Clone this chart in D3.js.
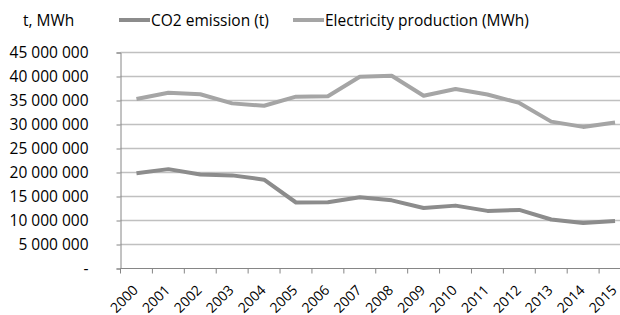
<!DOCTYPE html>
<html>
<head>
<meta charset="utf-8">
<script src="https://cdn.jsdelivr.net/npm/d3@7"></script>
<style>
  body { margin: 0; background: #fff; }
  svg text { font-family: "Open Sans", sans-serif; fill: #000; }
</style>
</head>
<body>
<div id="chart"></div>
<script>
const years = ["2000","2001","2002","2003","2004","2005","2006","2007","2008","2009","2010","2011","2012","2013","2014","2015"];
const co2 = [19850000, 20700000, 19600000, 19400000, 18500000, 13750000, 13800000, 14850000, 14200000, 12600000, 13100000, 12000000, 12200000, 10200000, 9500000, 9900000];
const electricity = [35300000, 36600000, 36300000, 34400000, 33900000, 35800000, 35900000, 39950000, 40150000, 36000000, 37400000, 36250000, 34500000, 30600000, 29500000, 30400000];
const yTicks = [0, 5000000, 10000000, 15000000, 20000000, 25000000, 30000000, 35000000, 40000000, 45000000];

const width = 620, height = 315;
const fontSize = "15.5px";
const svg = d3.select("#chart").append("svg")
    .attr("width", width)
    .attr("height", height);

// plot area runs past the right edge, like the cropped original
const x = d3.scaleBand().domain(years).range([120.5, 631]);
const y = d3.scaleLinear().domain([0, 45000000]).range([268.5, 52.5]);

const fmt = d => d === 0 ? "-" : d3.format(",")(d).replace(/,/g, " ");

// gridlines
svg.append("g")
    .selectAll("line")
    .data(yTicks.filter(d => d > 0))
    .join("line")
    .attr("x1", 120.5)
    .attr("x2", width)
    .attr("y1", d => y(d))
    .attr("y2", d => y(d))
    .attr("stroke", "#c0c0c0")
    .attr("stroke-width", 1.3);

// y axis
const yAxis = svg.append("g")
    .attr("transform", "translate(120.5,0)")
    .call(d3.axisLeft(y).tickValues(yTicks).tickSize(4).tickFormat(fmt));
yAxis.select(".domain").attr("stroke", "#868686");
yAxis.selectAll(".tick line").attr("stroke", "#868686");
yAxis.selectAll("text")
    .attr("font-size", fontSize)
    .attr("font-family", "Open Sans")
    .attr("fill", "#000")
    .attr("x", -32);

// x axis
const xAxis = svg.append("g")
    .attr("transform", "translate(0,268.5)");
xAxis.append("line")
    .attr("x1", 120.5).attr("x2", width)
    .attr("stroke", "#868686");
xAxis.selectAll(".tk")
    .data(years.concat(["end"]))
    .join("line")
    .attr("x1", (d, i) => 120.5 + i * x.step())
    .attr("x2", (d, i) => 120.5 + i * x.step())
    .attr("y1", 0).attr("y2", 5)
    .attr("stroke", "#868686");
xAxis.selectAll("text")
    .data(years)
    .join("text")
    .attr("transform", d => `translate(${x(d) + x.bandwidth() / 2 + 2.5},${22.5}) rotate(-45)`)
    .attr("text-anchor", "end")
    .attr("font-size", "14px")
    .text(d => d);

const line = d3.line()
    .x((d, i) => x(years[i]) + x.bandwidth() / 2)
    .y(d => y(d));

const series = [
    { name: "CO2 emission (t)", values: co2, color: "#8c8c8c" },
    { name: "Electricity production (MWh)", values: electricity, color: "#a5a5a5" }
];

svg.append("g")
    .selectAll("path")
    .data(series)
    .join("path")
    .attr("d", d => line(d.values))
    .attr("fill", "none")
    .attr("stroke", d => d.color)
    .attr("stroke-width", 4)
    .attr("stroke-linejoin", "round");

// unit label
svg.append("text")
    .attr("x", 23)
    .attr("y", 26)
    .attr("font-size", fontSize)
    .text("t, MWh");

// legend
const legendX = [119, 293];
const legend = svg.append("g")
    .selectAll("g")
    .data(series)
    .join("g")
    .attr("transform", (d, i) => `translate(${legendX[i]},20)`);
legend.append("line")
    .attr("x1", 0).attr("x2", 31)
    .attr("stroke", d => d.color)
    .attr("stroke-width", 4);
legend.append("text")
    .attr("x", 32)
    .attr("y", 5.5)
    .attr("font-size", fontSize)
    .text(d => d.name);
</script>
</body>
</html>
